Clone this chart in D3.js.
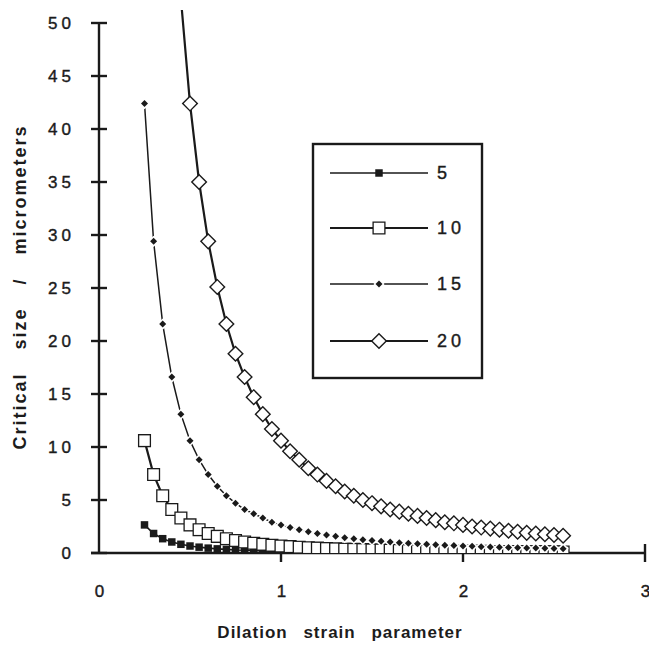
<!DOCTYPE html>
<html><head><meta charset="utf-8">
<script src="https://cdn.jsdelivr.net/npm/d3@7"></script>
<style>
html,body{margin:0;padding:0;background:#fff;}
svg{display:block;}
text{font-family:"Liberation Sans",Arial,sans-serif;fill:#1c1c1c;}
</style></head>
<body>
<svg id="chart" width="649" height="647"></svg>
<script>
// Dilation strain parameter
const xValues = [0.25,0.30,0.35,0.40,0.45,0.50,0.55,0.60,0.65,0.70,0.75,0.80,0.85,0.90,0.95,1.00,
  1.05,1.10,1.15,1.20,1.25,1.30,1.35,1.40,1.45,1.50,1.55,1.60,1.65,1.70,1.75,1.80,1.85,1.90,1.95,2.00,
  2.05,2.10,2.15,2.20,2.25,2.30,2.35,2.40,2.45,2.50,2.55];
// Critical size / micrometers
const series5 = [2.65,1.84,1.35,1.04,0.82,0.66,0.55,0.46,0.39,0.34,0.29,0.26,0.23,0.20,0.18,0.17,
  0.15,0.14,0.13,0.12,0.11,0.10,0.09,0.08,0.08,0.07,0.07,0.06,0.06,0.06,0.05,0.05,0.05,0.05,0.04,0.04,
  0.04,0.04,0.04,0.03,0.03,0.03,0.03,0.03,0.03,0.03,0.03];
const series10 = [10.6,7.4,5.4,4.1,3.3,2.65,2.2,1.84,1.57,1.35,1.18,1.04,0.92,0.82,0.73,0.66,
  0.60,0.55,0.50,0.46,0.42,0.39,0.36,0.34,0.32,0.29,0.28,0.26,0.24,0.23,0.22,0.20,0.19,0.18,0.17,0.17,
  0.16,0.15,0.14,0.14,0.13,0.13,0.12,0.12,0.11,0.11,0.10];
const series15 = [42.4,29.4,21.6,16.6,13.1,10.6,8.8,7.4,6.3,5.4,4.7,4.1,3.7,3.3,2.9,2.65,
  2.4,2.2,2.0,1.84,1.7,1.57,1.45,1.35,1.26,1.18,1.10,1.04,0.97,0.92,0.87,0.82,0.77,0.73,0.70,0.66,
  0.63,0.60,0.57,0.55,0.52,0.50,0.48,0.46,0.44,0.42,0.41];
const series20 = [null,null,null,null,52.3,42.4,35.0,29.4,25.1,21.6,18.8,16.6,14.7,13.1,11.7,10.6,
  9.6,8.8,8.0,7.4,6.8,6.3,5.8,5.4,5.0,4.7,4.4,4.1,3.9,3.7,3.5,3.3,3.1,2.9,2.8,2.65,
  2.5,2.4,2.3,2.2,2.1,2.0,1.9,1.84,1.77,1.7,1.63];
const seriesNames = ["5","10","15","20"];
const xTicks = [0,1,2,3];
const yTicks = [0,5,10,15,20,25,30,35,40,45,50];
const xTitle = "Dilation strain parameter";
const yTitle = "Critical size / micrometers";

const ink = "#1a1a1a";
const svg = d3.select("#chart");
const x = d3.scaleLinear().domain([0,3]).range([99,645]);
const y = d3.scaleLinear().domain([0,50]).range([553,23]);

// custom symbols
const squareSym = {draw(ctx,size){const h=Math.sqrt(size)/2;ctx.moveTo(-h,-h);ctx.lineTo(h,-h);ctx.lineTo(h,h);ctx.lineTo(-h,h);ctx.closePath();}};
const diamondSym = {draw(ctx,size){const r=Math.sqrt(size)/2;ctx.moveTo(0,-r);ctx.lineTo(r,0);ctx.lineTo(0,r);ctx.lineTo(-r,0);ctx.closePath();}};

const styles = [
  {data:series5, sym:squareSym, size:56, fill:ink, stroke:"none", sw:0, lw:1.6, halo:0},
  {data:series10, sym:squareSym, size:110, fill:"#fff", stroke:ink, sw:2.6, lw:2.2, halo:0},
  {data:series15, sym:diamondSym, size:49, fill:ink, stroke:"none", sw:0, lw:1.5, halo:3},
  {data:series20, sym:diamondSym, size:160, fill:"#fff", stroke:ink, sw:2.8, lw:2.2, halo:0}
];

// clip
svg.append("clipPath").attr("id","clip").append("rect")
  .attr("x",x(0)).attr("y",10).attr("width",x(3)-x(0)).attr("height",y(0)-10);

// axes
const yAxis = d3.axisLeft(y).tickValues(yTicks).tickSize(0).tickFormat(d3.format("d"));
const gy = svg.append("g").attr("transform",`translate(${x(0)},0)`).call(yAxis);
gy.select(".domain").remove();
gy.selectAll("text").attr("x",-24).attr("font-size",17).attr("letter-spacing","4px")
  .attr("fill",ink).attr("stroke",ink).attr("stroke-width",0.4);
svg.append("line").attr("x1",x(0)).attr("x2",x(0)).attr("y1",y(50)-1).attr("y2",y(0)+1)
  .attr("stroke",ink).attr("stroke-width",2.4);
svg.append("g").selectAll("line").data(yTicks).join("line")
  .attr("x1",x(0)-8).attr("x2",x(0)+8).attr("y1",d=>y(d)).attr("y2",d=>y(d))
  .attr("stroke",ink).attr("stroke-width",2.4);

const xAxis = d3.axisBottom(x).tickValues(xTicks).tickSize(0).tickFormat(d3.format("d"));
const gx = svg.append("g").attr("transform",`translate(0,${y(0)})`).call(xAxis);
gx.select(".domain").remove();
gx.selectAll("text").attr("y",32).attr("font-size",17).attr("fill",ink)
  .attr("stroke",ink).attr("stroke-width",0.4);
svg.append("line").attr("x1",x(0)-8).attr("x2",x(3)).attr("y1",y(0)).attr("y2",y(0))
  .attr("stroke",ink).attr("stroke-width",2.4);
svg.append("g").selectAll("line").data(xTicks).join("line")
  .attr("x1",d=>x(d)).attr("x2",d=>x(d)).attr("y1",y(0)-9).attr("y2",y(0)+9)
  .attr("stroke",ink).attr("stroke-width",d=>d===0?0:2.4);

// titles
svg.append("text").attr("x",340).attr("y",638).attr("text-anchor","middle")
  .attr("font-size",17).attr("font-weight","bold").attr("letter-spacing","1px").attr("word-spacing","10px")
  .text(xTitle);
svg.append("text").attr("transform","translate(26,287) rotate(-90)").attr("text-anchor","middle")
  .attr("font-size",18).attr("font-weight","bold").attr("letter-spacing","2px").attr("word-spacing","16px")
  .text(yTitle);

// series
const plot = svg.append("g").attr("clip-path","url(#clip)");
styles.forEach((s,i)=>{
  const pts = xValues.map((xv,j)=>({x:xv,y:s.data[j]})).filter(p=>p.y!=null);
  const line = d3.line().x(p=>x(p.x)).y(p=>y(p.y));
  plot.append("path").attr("d",line(pts)).attr("fill","none").attr("stroke",ink).attr("stroke-width",s.lw);
  const sym = d3.symbol().type(s.sym).size(s.size);
  plot.append("g").selectAll("path").data(pts.filter(p=>p.y<=50)).join("path")
    .attr("transform",p=>`translate(${x(p.x)},${y(p.y)})`)
    .attr("d",sym)
    .attr("fill",s.fill)
    .attr("stroke",s.halo?"#fff":s.stroke)
    .attr("stroke-width",s.halo?s.halo:s.sw)
    .attr("paint-order","stroke");
});

// legend
const lg = svg.append("g");
lg.append("rect").attr("x",313).attr("y",144).attr("width",169).attr("height",234)
  .attr("fill","#fff").attr("stroke",ink).attr("stroke-width",2.4);
const rowY = [173,228,284,341];
styles.forEach((s,i)=>{
  const yy = rowY[i];
  lg.append("line").attr("x1",330).attr("x2",428).attr("y1",yy).attr("y2",yy)
    .attr("stroke",ink).attr("stroke-width",s.lw);
  lg.append("path").attr("transform",`translate(379,${yy})`)
    .attr("d",d3.symbol().type(s.sym).size(s.size)())
    .attr("fill",s.fill).attr("stroke",s.halo?"#fff":s.stroke)
    .attr("stroke-width",s.halo?s.halo:s.sw).attr("paint-order","stroke");
  lg.append("text").attr("x",437).attr("y",yy+6).attr("font-size",18)
    .attr("letter-spacing","4px").attr("stroke",ink).attr("stroke-width",0.4).text(seriesNames[i]);
});
</script>
</body></html>
